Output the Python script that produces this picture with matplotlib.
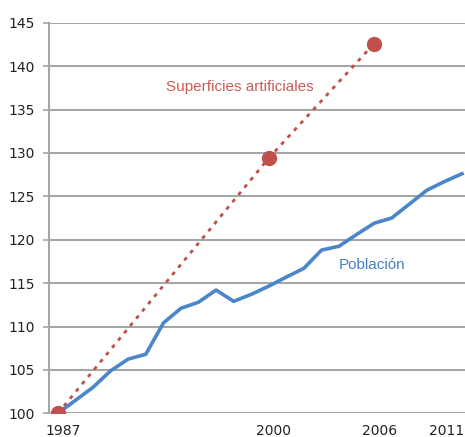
import numpy as np
import matplotlib
matplotlib.use("Agg")
import matplotlib.pyplot as plt
import matplotlib.transforms as mtransforms

# Población (índice 1987 = 100); no hay padrón de 1997
years = [1987, 1988, 1989, 1990, 1991, 1992, 1993, 1994, 1995, 1996,
         1998, 1999, 2000, 2001, 2002, 2003, 2004, 2005, 2006, 2007,
         2008, 2009, 2010, 2011]
poblacion = [100.0, 101.5, 103.0, 104.9, 106.25, 106.8, 110.4, 112.1, 112.8, 114.2,
             112.9, 113.7, 114.65, 115.7, 116.7, 118.8, 119.25, 120.6, 121.9, 122.5,
             124.1, 125.7, 126.7, 127.6]

# Superficies artificiales (Corine)
sup_years = [1987, 2000, 2006]
superficies = [100.0, 129.4, 142.6]

tick_years = [1987, 2000, 2006, 2011]
yticks = [100, 105, 110, 115, 120, 125, 130, 135, 140, 145]

blue = "#4a86c8"
red = "#c0504d"
grid_col = "#a6a6a6"

x_pob = np.arange(len(years))
x_sup = [years.index(y) for y in sup_years]
x_ticks = [years.index(y) for y in tick_years]

fig = plt.figure(figsize=(4.65, 4.37), dpi=100)
ax = fig.add_axes([49 / 465, 23.7 / 437, 1 - 49 / 465, 390.6 / 437])

ax.plot(x_pob, poblacion, color=blue, lw=2.6, solid_joinstyle="round", zorder=3)
ax.plot(x_sup, superficies, color=red, lw=2.0, linestyle=(0, (1.4, 2.0)), zorder=2)
ax.plot(x_sup, superficies, "o", color=red, ms=10, zorder=4)

ax.text(10.35, 137.6, "Superficies artificiales", color="#cc5a55", fontsize=11,
        family="Liberation Sans", ha="center", va="center")
ax.text(17.9, 117.1, "Población", color="#4a7fc0", fontsize=11,
        family="Liberation Sans", ha="center", va="center")

ax.set_xlim(-0.51, 23.17)
ax.set_ylim(100, 145)
ax.set_yticks(yticks)
ax.set_xticks(x_ticks)
ax.set_xticklabels([str(y) for y in tick_years])

ax.grid(axis="y", color=grid_col, lw=1.5)
ax.set_axisbelow(True)
for s in ["top", "right", "bottom"]:
    ax.spines[s].set_visible(False)
ax.spines["left"].set_color(grid_col)
ax.spines["left"].set_linewidth(1.5)

ax.tick_params(axis="y", length=4, width=1.2, color=grid_col, labelsize=10,
               labelcolor="#222222", pad=6)
ax.tick_params(axis="x", length=0, labelsize=10, labelcolor="#222222", pad=8)

# las etiquetas del eje x están algo desplazadas a la derecha en el original
labels = ax.get_xticklabels()
for lab in labels[:-1]:
    lab.set_transform(lab.get_transform() +
                      mtransforms.ScaledTranslation(5 / 100, 0, fig.dpi_scale_trans))
labels[-1].set_horizontalalignment("right")
labels[-1].set_transform(labels[-1].get_transform() +
                         mtransforms.ScaledTranslation(2 / 100, 0, fig.dpi_scale_trans))

fig.savefig("out.png", dpi=100)
